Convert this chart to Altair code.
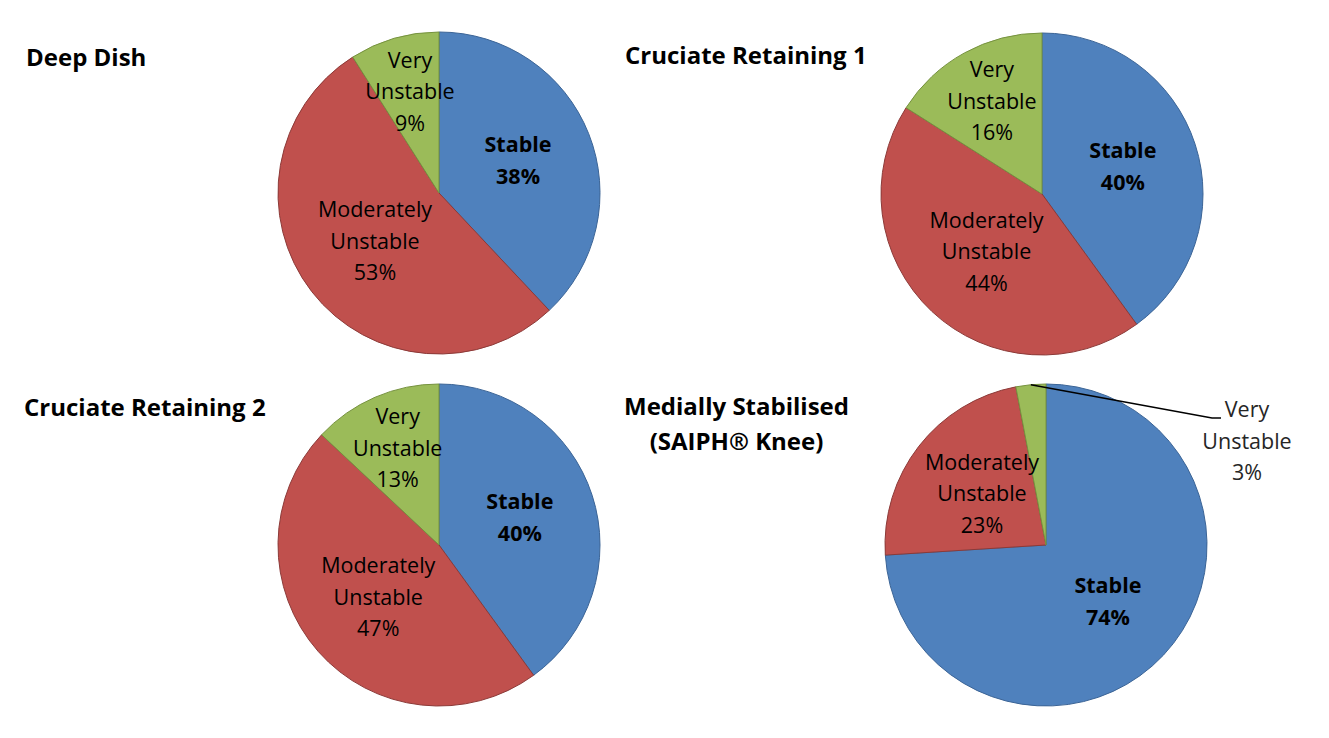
import math
import altair as alt
import pandas as pd

# ---------------- data ----------------
pies = ["Deep Dish", "Cruciate Retaining 1", "Cruciate Retaining 2", "Medially Stabilised"]
pie_titles = ["Deep Dish", "Cruciate Retaining 1", "Cruciate Retaining 2",
              "Medially Stabilised\n(SAIPH® Knee)"]
categories = ["Stable", "Moderately Unstable", "Very Unstable"]
stable = [38, 40, 40, 74]
moderate = [53, 44, 47, 23]
very = [9, 16, 13, 3]

# ---------------- style / layout ----------------
fills = ["#4F81BD", "#C0504D", "#9BBB59"]
edges = ["#3B6496", "#8C3A38", "#76923F"]
FONT = "Open Sans"
W, H = 1329, 738
centers = [(439, 193), (1042, 194), (439, 545), (1046, 545)]
R = 161
title_pos = [(26, 66, "left"), (625, 64, "left"), (24, 416, "left"), (736.5, 415, "center")]
r_stable, r_mod, r_very = 85, 81, 104
LFS = 21.5   # label font size
LH = 31.5    # label line height

rows = []
for i, p in enumerate(pies):
    vals = [stable[i], moderate[i], very[i]]
    for j, c in enumerate(categories):
        words = c.split(" ")
        rows.append({
            "pie": p,
            "category": c,
            "value": vals[j],
            "order": j,
            "label": "\n".join(words + [f"{vals[j]}%"]),
        })
df = pd.DataFrame(rows)

color_scale = alt.Scale(domain=categories, range=fills)
stroke_scale = alt.Scale(domain=categories, range=edges)

layers = []
for i, p in enumerate(pies):
    cx, cy = centers[i]
    base = alt.Chart(df).transform_filter(alt.datum.pie == p).encode(
        theta=alt.Theta("value:Q", stack=True, scale=alt.Scale(domain=[0, 100])),
        order=alt.Order("order:Q"),
        x=alt.value(cx),
        y=alt.value(cy),
    )
    arc = base.mark_arc(outerRadius=R, strokeWidth=1).encode(
        color=alt.Color("category:N", scale=color_scale, legend=None),
        stroke=alt.Stroke("category:N", scale=stroke_scale, legend=None),
    )
    t_stable = base.transform_calculate(
        t="datum.category == 'Stable' ? datum.label : ''"
    ).mark_text(radius=r_stable, font=FONT, fontSize=LFS, fontWeight="bold",
                lineBreak="\n", lineHeight=32, color="black", dy=-16,
                align="center", baseline="middle").encode(text="t:N")
    t_mod = base.transform_calculate(
        t="datum.category == 'Moderately Unstable' ? datum.label : ''"
    ).mark_text(radius=r_mod, font=FONT, fontSize=LFS,
                lineBreak="\n", lineHeight=LH, color="black", dy=-LH,
                align="center", baseline="middle").encode(text="t:N")
    t_very = base.transform_calculate(
        t="datum.category == 'Very Unstable' && datum.value >= 5 ? datum.label : ''"
    ).mark_text(radius=r_very, font=FONT, fontSize=LFS,
                lineBreak="\n", lineHeight=LH, color="black", dy=-LH,
                align="center", baseline="middle").encode(text="t:N")
    layers += [arc, t_stable, t_mod, t_very]

# titles
tdf = pd.DataFrame({
    "title": pie_titles,
    "tx": [t[0] for t in title_pos],
    "ty": [t[1] for t in title_pos],
    "al": [t[2] for t in title_pos],
})
for al in ["left", "center"]:
    layers.append(
        alt.Chart(tdf).transform_filter(alt.datum.al == al).mark_text(
            font=FONT, fontSize=24, fontWeight="bold", lineBreak="\n",
            lineHeight=35, align=al, baseline="alphabetic", color="black"
        ).encode(
            x=alt.X("tx:Q", scale=None),
            y=alt.Y("ty:Q", scale=None),
            text="title:N",
        )
    )

# outside label for the small slice (Medially Stabilised, Very Unstable)
k = 3
cx, cy = centers[k]
ang = 2 * math.pi * (stable[k] + moderate[k] + very[k] / 2) / 100
ex, ey = cx + R * math.sin(ang), cy - R * math.cos(ang)
leader = pd.DataFrame({"px": [ex, 1212, 1221], "py": [ey, 418, 418], "o": [0, 1, 2]})
layers.append(
    alt.Chart(leader).mark_line(color="black", strokeWidth=1.5).encode(
        x=alt.X("px:Q", scale=None), y=alt.Y("py:Q", scale=None), order="o:Q"
    )
)
out_lbl = pd.DataFrame({
    "txt": ["Very\nUnstable\n" + f"{very[k]}%"],
    "lx": [1247], "ly": [411],
})
layers.append(
    alt.Chart(out_lbl).mark_text(
        font=FONT, fontSize=LFS, lineBreak="\n", lineHeight=LH,
        align="center", baseline="middle", color="#262626"
    ).encode(x=alt.X("lx:Q", scale=None), y=alt.Y("ly:Q", scale=None), text="txt:N")
)

chart = alt.layer(*layers).resolve_scale(theta="independent").properties(
    width=W, height=H, padding=0, autosize=alt.AutoSizeParams(type="none"),
    background="white",
).configure_view(stroke=None)

chart.save("out.html", embed_options={"renderer": "svg", "actions": False})
